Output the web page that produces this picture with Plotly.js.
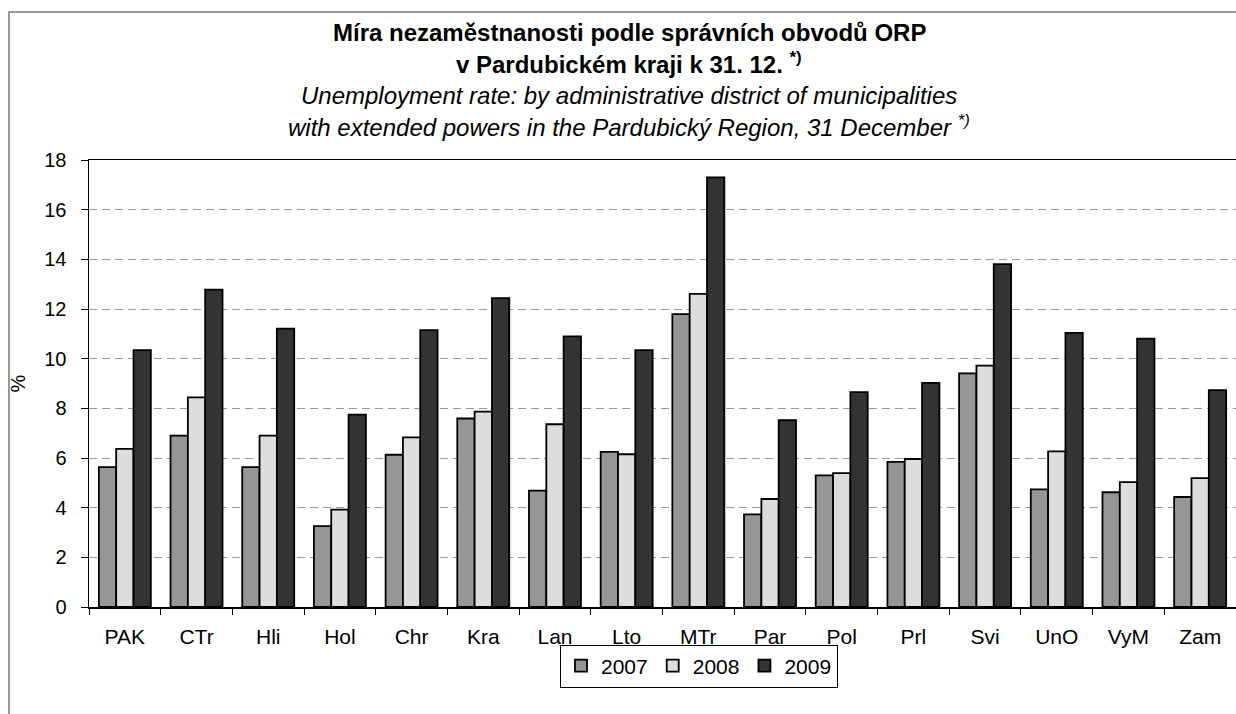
<!DOCTYPE html>
<html>
<head>
<meta charset="utf-8">
<script src="https://cdn.plot.ly/plotly-3.0.1.min.js"></script>
<style>html,body{margin:0;padding:0;background:#fff;}#chart{width:1236px;height:714px;}</style>
</head>
<body>
<div id="chart"></div>
<script>
const categories = ["PAK","CTr","Hli","Hol","Chr","Kra","Lan","Lto","MTr","Par","Pol","Prl","Svi","UnO","VyM","Zam"];
const years = ["2007","2008","2009"];
const values2007 = [5.63,6.90,5.63,3.26,6.13,7.59,4.69,6.25,11.79,3.73,5.30,5.84,9.41,4.74,4.62,4.43];
const values2008 = [6.37,8.44,6.90,3.92,6.83,7.87,7.36,6.15,12.61,4.35,5.39,5.96,9.72,6.27,5.03,5.19];
const values2009 = [10.34,12.78,11.21,7.75,11.15,12.44,10.90,10.34,17.30,7.52,8.65,9.02,13.81,11.04,10.81,8.73];
const colors = ["#969696","#DDDDDD","#333333"];
const titleLines = [
  "<b>Míra nezaměstnanosti podle správních obvodů ORP</b>",
  "<b>v Pardubickém kraji k 31. 12. <sup>*)</sup></b>",
  "<i>Unemployment rate: by administrative district of municipalities</i>",
  "<i>with extended powers in the Pardubický Region, 31 December <sup>*)</sup></i>"
];
const yTickVals = [0,2,4,6,8,10,12,14,16,18];

const series = [values2007, values2008, values2009];
const traces = series.map((v,i)=>({
  type:'bar', name: years[i], x: categories, y: v,
  marker:{color: colors[i], line:{color:'#000', width:1.8}}
}));

const FONT = 'Liberation Sans, Arial, sans-serif';
const L=89, T=160, B=607, W=1236, H=714;
const ph = B-T, pw = W-L;
const px = X => (X-L)/pw;
const py = Y => (B-Y)/ph;
const lineY = [33,63,95,126];
const annotations = titleLines.map((t,i)=>({
  text:t, xref:'paper', yref:'paper', x: px(629), y: py(lineY[i]),
  xanchor:'center', yanchor:'middle', showarrow:false,
  font:{family:FONT, size:24, color:'#000'}
}));

const layout = {
  width:W, height:H,
  margin:{l:L, r:0, t:T, b:H-B, pad:0},
  paper_bgcolor:'#fff', plot_bgcolor:'#fff',
  font:{family:FONT, size:21, color:'#000'},
  barmode:'group', bargap:0.275, bargroupgap:0,
  showlegend:true,
  legend:{orientation:'h', x:px(699), y:py(666), xanchor:'center', yanchor:'middle',
    bordercolor:'#000', borderwidth:1, font:{size:21}, traceorder:'normal',
    itemwidth:30},
  xaxis:{type:'category', tickson:'boundaries', ticks:'outside', ticklen:6, tickcolor:'#000',
    showline:true, linecolor:'#000', linewidth:1.5, mirror:true, showgrid:false,
    tickfont:{size:21}, ticklabelstandoff:10, automargin:false},
  yaxis:{range:[0,18], tickvals:yTickVals, ticks:'outside', ticklen:7, tickcolor:'#000',
    showline:true, linecolor:'#000', linewidth:1.5, showgrid:true, gridcolor:'#999',
    griddash:'8px,5px', gridwidth:1, zeroline:false, tickfont:{size:20},
    ticklabelstandoff:10,
    title:{text:'%', font:{size:20}, standoff:13}, automargin:false},
  annotations: annotations,
  shapes:[{type:'rect', xref:'paper', yref:'paper', x0:px(9), x1:px(1245), y0:py(725), y1:py(12),
    line:{color:'#777', width:1.5}, fillcolor:'rgba(0,0,0,0)', layer:'below'}]
};
Plotly.newPlot('chart', traces, layout, {staticPlot:true, displayModeBar:false});
</script>
</body>
</html>
